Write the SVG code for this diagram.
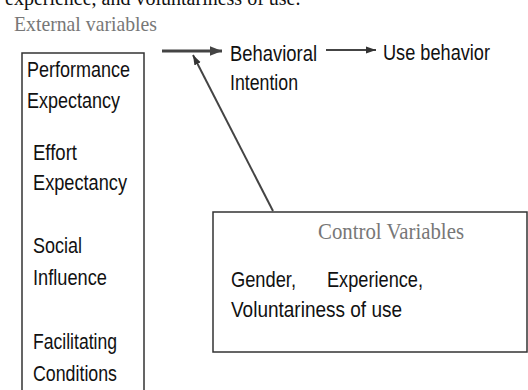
<svg xmlns="http://www.w3.org/2000/svg" width="528" height="390" viewBox="0 0 528 390">
  <defs>
    <style>
      .sans { font-family: "Liberation Sans", Arial, sans-serif; font-size: 21.5px; fill: #111; }
      .serif-grey { font-family: "Liberation Serif", "Times New Roman", serif; fill: #777; }
      .serif { font-family: "Liberation Serif", "Times New Roman", serif; fill: #111; }
      .box { fill: #fff; stroke: #333; stroke-width: 1.5; }
      .edge { stroke: #444; fill: none; }
    </style>
    <marker id="head" viewBox="0 0 10 10" refX="10" refY="5" markerWidth="4" markerHeight="4" markerUnits="strokeWidth" orient="auto">
      <path d="M0,1 L10,5 L0,9 Z" fill="#444"/>
    </marker>
    <marker id="headThin" viewBox="0 0 10 10" refX="10" refY="5" markerWidth="5" markerHeight="5" markerUnits="strokeWidth" orient="auto">
      <path d="M0,1.5 L10,5 L0,8.5 Z" fill="#333"/>
    </marker>
  </defs>

  <rect width="528" height="390" fill="#fff"/>

  <!-- running text above the figure -->
  <text class="serif" x="5" y="5" font-size="20">experience, and voluntariness of use.</text>

  <!-- left-hand group of determinants -->
  <g id="external">
    <text class="serif-grey" x="14" y="31" font-size="21" textLength="143" lengthAdjust="spacingAndGlyphs">External variables</text>
    <rect class="box" x="22" y="53" width="122" height="360"/>
    <text class="sans" x="27" y="77" textLength="103" lengthAdjust="spacingAndGlyphs">Performance</text>
    <text class="sans" x="27" y="108" textLength="93" lengthAdjust="spacingAndGlyphs">Expectancy</text>
    <text class="sans" x="33" y="160" textLength="44" lengthAdjust="spacingAndGlyphs">Effort</text>
    <text class="sans" x="33" y="190" textLength="94" lengthAdjust="spacingAndGlyphs">Expectancy</text>
    <text class="sans" x="33" y="253" textLength="49" lengthAdjust="spacingAndGlyphs">Social</text>
    <text class="sans" x="33" y="285" textLength="74" lengthAdjust="spacingAndGlyphs">Influence</text>
    <text class="sans" x="33" y="349" textLength="84" lengthAdjust="spacingAndGlyphs">Facilitating</text>
    <text class="sans" x="33" y="381" textLength="84" lengthAdjust="spacingAndGlyphs">Conditions</text>
  </g>

  <g id="intention">
    <text class="sans" x="230" y="61" textLength="87" lengthAdjust="spacingAndGlyphs">Behavioral</text>
    <text class="sans" x="230" y="90" textLength="68" lengthAdjust="spacingAndGlyphs">Intention</text>
  </g>

  <g id="use">
    <text class="sans" x="383" y="60" textLength="107" lengthAdjust="spacingAndGlyphs">Use behavior</text>
  </g>

  <g id="control">
    <rect class="box" x="213" y="212" width="314" height="140"/>
    <text class="serif-grey" x="318" y="239" font-size="23" textLength="146" lengthAdjust="spacingAndGlyphs">Control Variables</text>
    <text class="sans" x="231" y="287" textLength="65" lengthAdjust="spacingAndGlyphs">Gender,</text>
    <text class="sans" x="327" y="287" textLength="96" lengthAdjust="spacingAndGlyphs">Experience,</text>
    <text class="sans" x="231" y="317" textLength="171" lengthAdjust="spacingAndGlyphs">Voluntariness of use</text>
  </g>

  <g id="connectors">
    <line class="edge" x1="162" y1="51" x2="222" y2="51" stroke-width="3" marker-end="url(#head)"/>
    <line class="edge" x1="326" y1="50" x2="376" y2="50" stroke-width="2" marker-end="url(#headThin)"/>
    <line class="edge" x1="273" y1="211" x2="193" y2="55" stroke-width="2" marker-end="url(#headThin)"/>
  </g>
</svg>
